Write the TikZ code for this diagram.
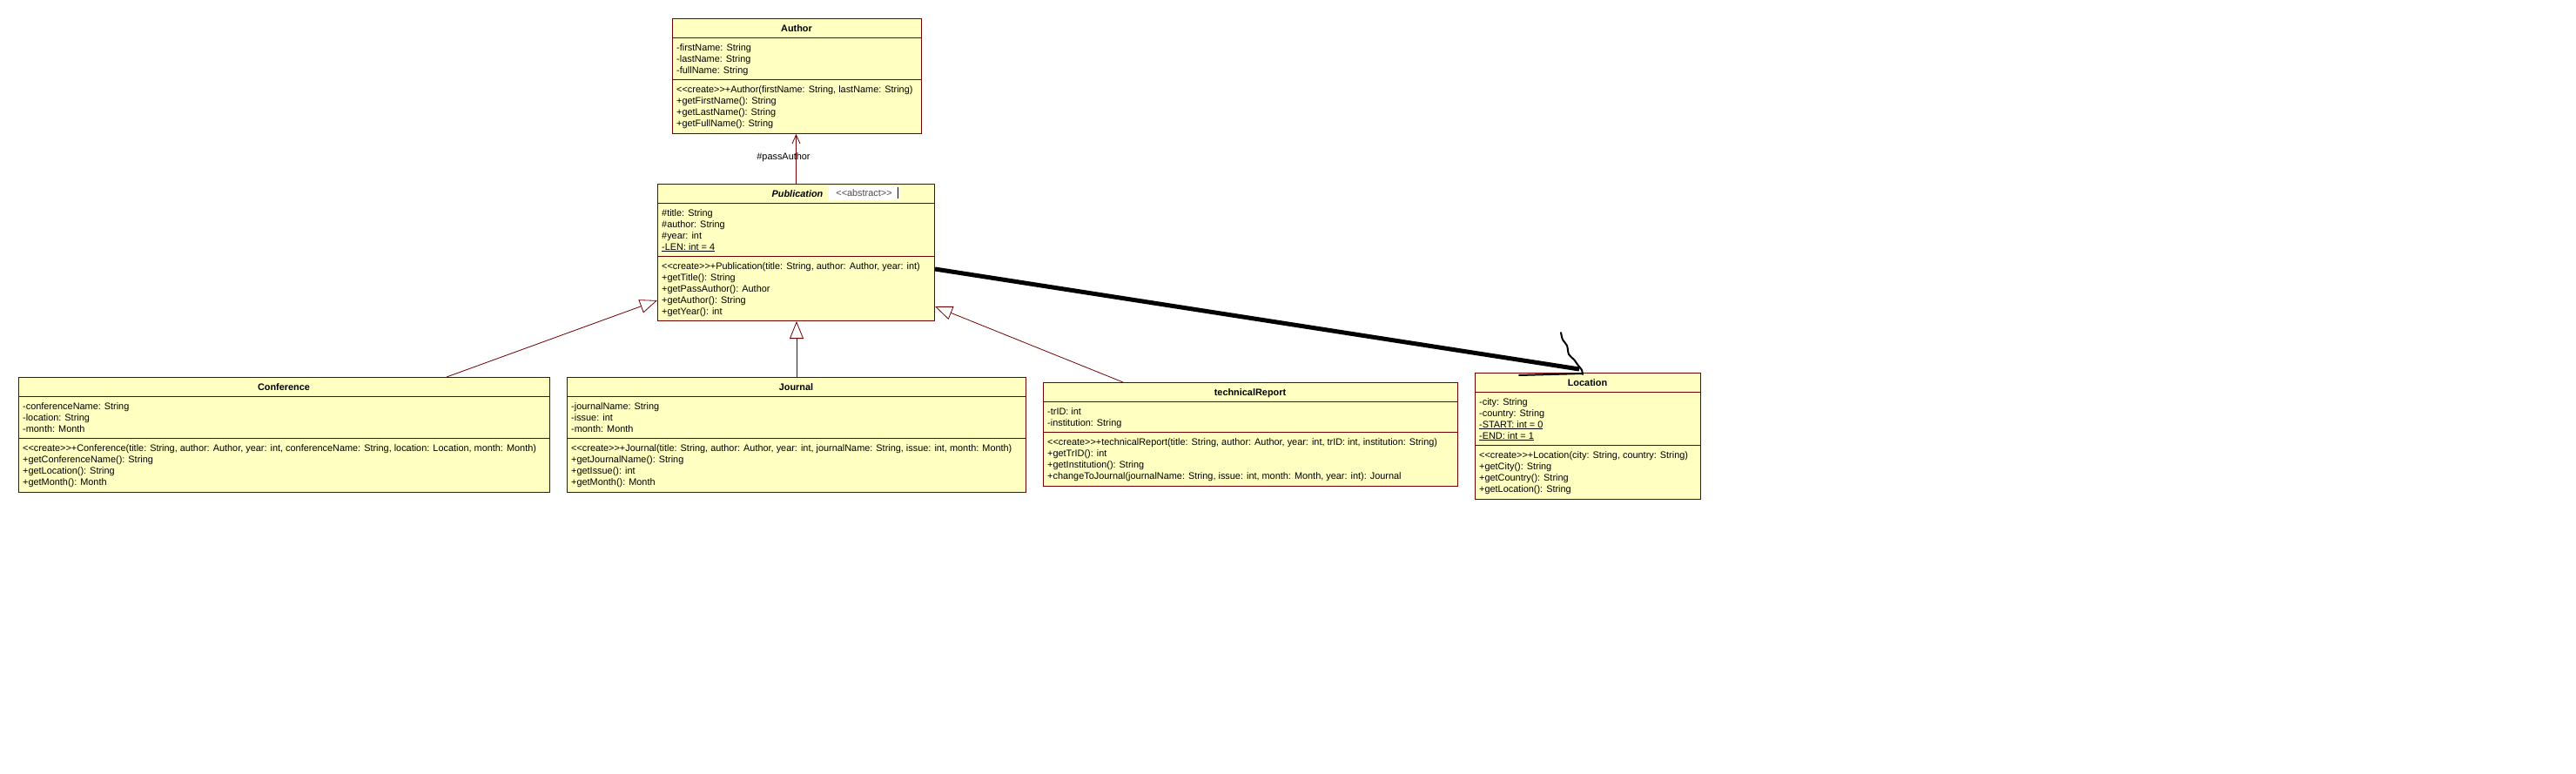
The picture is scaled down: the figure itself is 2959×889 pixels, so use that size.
\documentclass[tikz,border=0pt]{standalone}
\usepackage{fontspec}
\setmainfont{Liberation Sans}[Ligatures=TeXOff]
\usetikzlibrary{arrows.meta, calc, positioning}
\definecolor{umlfill}{RGB}{255,255,194}
\definecolor{umlline}{RGB}{115,0,0}

\begin{document}
\begin{tikzpicture}[x=1pt, y=-1pt, font=\fontsize{10.9}{13}\selectfont,
    classbox/.style={draw=umlline, fill=umlfill, line width=1pt, anchor=north west, inner sep=0pt},
    member/.style={anchor=west, inner sep=0pt, text height=8pt, text depth=0pt},
    classname/.style={inner sep=0pt, text height=8pt, text depth=0pt, font=\fontsize{10.9}{13}\selectfont\bfseries},
    inherit/.style={draw=umlline, line width=0.8pt, -{Triangle[open, length=20pt, width=16pt]}},
    navig/.style={draw=umlline, line width=0.8pt, -{Straight Barb[length=10pt, width=9pt]}}]

    \fill[white] (0,0) rectangle (2959,889);

    % Author
    \node[classbox, minimum width=286pt, minimum height=132pt] (author) at (772,21) {};
    \node[classname] (authortitle) at (915,32) {Author};
    \foreach \m [count=\i from 0] in {-firstName: String, -lastName: String, -fullName: String}
        \node[member] (authorattr\i) at (777,{54+13*\i}) {\m};
    \foreach \m [count=\i from 0] in {{<<create>>+Author(firstName: String, lastName: String)},
        +getFirstName(): String, +getLastName(): String, +getFullName(): String}
        \node[member] (authorop\i) at (777,{102+13*\i}) {\m};

    % Publication
    \node[classbox, minimum width=318pt, minimum height=157pt] (publication) at (755,211) {};
    \node[classname, font=\fontsize{10.9}{13}\selectfont\bfseries\itshape] (pubtitle) at (916,222) {Publication};
    \node[fill=white, text=black!70, inner sep=0pt, minimum width=81pt, minimum height=16pt] (pubstereo) at (992.5,222) {<<abstract>>};
    \draw[line width=1pt] ([xshift=-1.5pt, yshift=-1pt]pubstereo.north east) -- ([xshift=-1.5pt, yshift=2pt]pubstereo.south east);
    \foreach \m [count=\i from 0] in {\#title: String, \#author: String, \#year: int, {\underline{-LEN: int = 4}}}
        \node[member] (pubattr\i) at (760,{244+13*\i}) {\m};
    \foreach \m [count=\i from 0] in {{<<create>>+Publication(title: String, author: Author, year: int)},
        +getTitle(): String, +getPassAuthor(): Author, +getAuthor(): String, +getYear(): int}
        \node[member] (pubop\i) at (760,{305+13*\i}) {\m};

    % Conference
    \node[classbox, minimum width=610pt, minimum height=132pt] (conference) at (21,433) {};
    \node[classname] (conftitle) at (326,444) {Conference};
    \foreach \m [count=\i from 0] in {-conferenceName: String, -location: String, -month: Month}
        \node[member] (confattr\i) at (26,{466+13*\i}) {\m};
    \foreach \m [count=\i from 0] in {{<<create>>+Conference(title: String, author: Author, year: int, conferenceName: String, location: Location, month: Month)},
        +getConferenceName(): String, +getLocation(): String, +getMonth(): Month}
        \node[member] (confop\i) at (26,{514+13*\i}) {\m};

    % Journal
    \node[classbox, minimum width=527pt, minimum height=132pt] (journal) at (651,433) {};
    \node[classname] (journaltitle) at (914.5,444) {Journal};
    \foreach \m [count=\i from 0] in {-journalName: String, -issue: int, -month: Month}
        \node[member] (journalattr\i) at (656,{466+13*\i}) {\m};
    \foreach \m [count=\i from 0] in {{<<create>>+Journal(title: String, author: Author, year: int, journalName: String, issue: int, month: Month)},
        +getJournalName(): String, +getIssue(): int, +getMonth(): Month}
        \node[member] (journalop\i) at (656,{514+13*\i}) {\m};

    % technicalReport
    \node[classbox, minimum width=476pt, minimum height=119pt] (report) at (1198,439) {};
    \node[classname] (reporttitle) at (1436,450) {technicalReport};
    \foreach \m [count=\i from 0] in {-trID: int, -institution: String}
        \node[member] (reportattr\i) at (1203,{472+13*\i}) {\m};
    \foreach \m [count=\i from 0] in {{<<create>>+technicalReport(title: String, author: Author, year: int, trID: int, institution: String)},
        +getTrID(): int, +getInstitution(): String, {+changeToJournal(journalName: String, issue: int, month: Month, year: int): Journal}}
        \node[member] (reportop\i) at (1203,{507+13*\i}) {\m};

    % Location
    \node[classbox, minimum width=259pt, minimum height=145pt] (location) at (1694,428) {};
    \node[classname] (loctitle) at (1823.5,439) {Location};
    \foreach \m [count=\i from 0] in {-city: String, -country: String, {\underline{-START: int = 0}}, {\underline{-END: int = 1}}}
        \node[member] (locattr\i) at (1699,{461+13*\i}) {\m};
    \foreach \m [count=\i from 0] in {{<<create>>+Location(city: String, country: String)},
        +getCity(): String, +getCountry(): String, +getLocation(): String}
        \node[member] (locop\i) at (1699,{522+13*\i}) {\m};

    % compartments
    \foreach \c/\a in {author/70, publication/83, conference/70, journal/70, report/57, location/83} {
        \draw[umlline, line width=1pt] ([yshift=-22pt]\c.north west) -- ([yshift=-22pt]\c.north east);
        \draw[umlline, line width=1pt] ([yshift=-\a pt]\c.north west) -- ([yshift=-\a pt]\c.north east);
    }

    % relations
    \draw[navig] (publication.north) -- (publication.north |- author.south);
    \node[inner sep=0pt, text height=8pt, text depth=0pt] (passlabel) at (900,179) {\#passAuthor};
    \draw[inherit] ([xshift=492pt]conference.north west) -- ([yshift=-134pt]publication.north west);
    \draw[inherit] (journal.north) -- (journal.north |- publication.south);
    \draw[inherit] ([xshift=92pt]report.north west) -- ([yshift=-141pt]publication.north east);

    \draw[line width=5pt] ([yshift=-98pt]publication.north east) -- ([xshift=120pt, yshift=4pt]location.north west);
    \draw[line width=2pt, line cap=round] plot[smooth] coordinates {(1793,382) (1795,390) (1800,397) (1802,407) (1808,413) (1813,420) (1817,425) (1818,430)};
    \draw[line width=2pt, line cap=round] (1745,431) -- (1818,429);
\end{tikzpicture}
\end{document}
